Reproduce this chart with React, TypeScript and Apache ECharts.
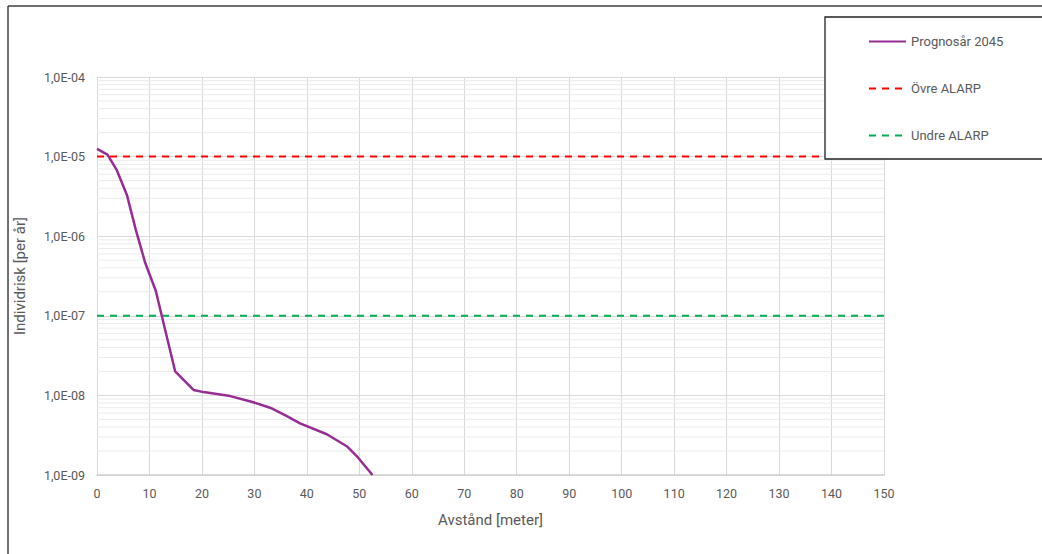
import React, { useEffect, useRef } from "react";
import * as echarts from "echarts";

const distances = [0, 2, 3.8, 5.7, 7.4, 9.2, 11.2, 14.9, 18.4, 20.3, 25.4, 29.8, 33, 36.2, 38.7, 43.8, 47.6, 49.5, 52.5];
const risk = [1.25e-5, 1.06e-5, 6.7e-6, 3.3e-6, 1.2e-6, 4.6e-7, 2.06e-7, 2.0e-8, 1.17e-8, 1.1e-8, 9.8e-9, 8.2e-9, 7.0e-9, 5.5e-9, 4.45e-9, 3.25e-9, 2.3e-9, 1.73e-9, 1.0e-9];
const alarpX = [0, 150];
const upperAlarp = [1e-5, 1e-5];
const lowerAlarp = [1e-7, 1e-7];
const seriesNames = ["Prognosår 2045", "Övre ALARP", "Undre ALARP"];
const decades = [-9, -8, -7, -6, -5];
const minorMultipliers = [2, 3, 4, 5, 6, 7, 8, 9];

const fmt = (v: number) => {
  const e = Math.round(Math.log10(v));
  return "1,0E" + (e < 0 ? "-" : "+") + String(Math.abs(e)).padStart(2, "0");
};

export default function App() {
  const ref = useRef<HTMLDivElement>(null);
  useEffect(() => {
    if (!ref.current) return;
    const chart = echarts.init(ref.current, null, { renderer: "svg" });
    const minorValues: number[] = [];
    decades.forEach((d) => minorMultipliers.forEach((m) => minorValues.push(m * Math.pow(10, d))));
    const minorSeries = minorValues.map((v, k) => ({
      name: "__minor" + k,
      type: "line",
      data: alarpX.map((x) => [x, v]),
      symbol: "none",
      silent: true,
      lineStyle: { color: "#ebebeb", width: 1 },
      emphasis: { disabled: true },
      z: 1,
    }));
    const font = "Roboto";
    chart.setOption({
      animation: false,
      backgroundColor: "#ffffff",
      textStyle: { fontFamily: font },
      grid: { left: 97, right: 158, top: 77, bottom: 79 },
      graphic: [
        { type: "line", shape: { x1: 8, y1: 6, x2: 8, y2: 554 }, style: { stroke: "#404040", lineWidth: 1.5 }, z: 100 },
        { type: "line", shape: { x1: 8, y1: 6, x2: 1042, y2: 6 }, style: { stroke: "#404040", lineWidth: 1.5 }, z: 100 },
      ],
      legend: {
        data: seriesNames,
        orient: "vertical",
        left: 825,
        top: 17,
        padding: [18, 40, 17, 43],
        itemWidth: 37,
        itemHeight: 12,
        itemGap: 34,
        itemStyle: { opacity: 0 },
        backgroundColor: "#ffffff",
        borderColor: "#222222",
        borderWidth: 1.3,
        borderRadius: 0,
        z: 20,
        textStyle: { fontFamily: font, fontSize: 13, color: "#595959" },
      },
      xAxis: {
        type: "value",
        min: 0,
        max: 150,
        interval: 10,
        name: "Avstånd [meter]",
        nameLocation: "middle",
        nameGap: 37,
        nameTextStyle: { fontFamily: font, fontSize: 15, color: "#595959" },
        axisLine: { lineStyle: { color: "#d0d0d0", width: 1.5 } },
        axisTick: { show: false },
        axisLabel: { fontFamily: font, fontSize: 12.5, color: "#595959", margin: 12 },
        splitLine: { show: true, lineStyle: { color: "#d9d9d9", width: 1 } },
      },
      yAxis: {
        type: "log",
        logBase: 10,
        min: 1e-9,
        max: 1e-4,
        name: "Individrisk [per år]",
        nameLocation: "middle",
        nameGap: 70,
        nameTextStyle: { fontFamily: font, fontSize: 15, color: "#595959" },
        axisLine: { show: true, lineStyle: { color: "#d9d9d9", width: 1 } },
        axisTick: { show: false },
        axisLabel: { fontFamily: font, fontSize: 12.5, color: "#595959", margin: 12, formatter: fmt },
        splitLine: { show: true, lineStyle: { color: "#d9d9d9", width: 1 } },
      },
      series: [
        ...minorSeries,
        {
          name: seriesNames[0],
          type: "line",
          data: distances.map((x, i) => [x, risk[i]]),
          symbol: "none",
          lineStyle: { color: "#982C96", width: 2.5 },
          itemStyle: { color: "#982C96" },
          z: 3,
        },
        {
          name: seriesNames[1],
          type: "line",
          data: alarpX.map((x, i) => [x, upperAlarp[i]]),
          symbol: "none",
          lineStyle: { color: "#FF0000", width: 2, type: [7, 6] },
          itemStyle: { color: "#FF0000" },
          z: 2,
        },
        {
          name: seriesNames[2],
          type: "line",
          data: alarpX.map((x, i) => [x, lowerAlarp[i]]),
          symbol: "none",
          lineStyle: { color: "#00B050", width: 2, type: [7, 6] },
          itemStyle: { color: "#00B050" },
          z: 2,
        },
      ],
    });
    return () => chart.dispose();
  }, []);
  return <div ref={ref} style={{ position: "fixed", left: 0, top: 0, width: 1042, height: 554 }} />;
}
